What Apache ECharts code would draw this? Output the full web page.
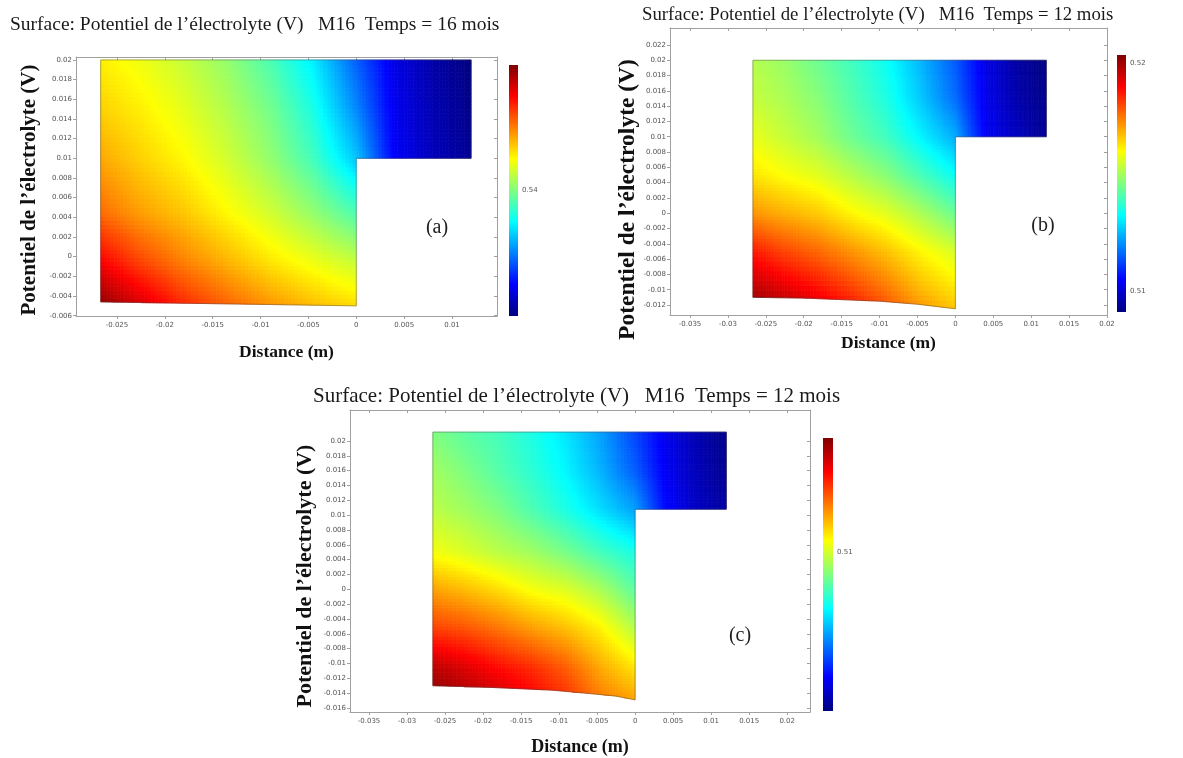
<!DOCTYPE html>
<html><head><meta charset="utf-8">
<script src="https://cdn.jsdelivr.net/npm/echarts@6/dist/echarts.min.js"></script>
<style>html,body{margin:0;padding:0;background:#fff}#c{width:1183px;height:758px}</style>
</head><body><div id="c"></div>
<script>
// ================= DATA =================
const titleA = 'Surface: Potentiel de l’électrolyte (V)   M16  Temps = 16 mois';
const titleB = 'Surface: Potentiel de l’électrolyte (V)   M16  Temps = 12 mois';
const titleC = 'Surface: Potentiel de l’électrolyte (V)   M16  Temps = 12 mois';
const xName = 'Distance (m)';
const yName = 'Potentiel de l’électrolyte (V)';
const panelLabels = ['(a)', '(b)', '(c)'];

// tick labels
const xTicksA = [-0.025, -0.02, -0.015, -0.01, -0.005, 0, 0.005, 0.01];
const yTicksA = [-0.006, -0.004, -0.002, 0, 0.002, 0.004, 0.006, 0.008, 0.01, 0.012, 0.014, 0.016, 0.018, 0.02];
const xTicksB = [-0.035, -0.03, -0.025, -0.02, -0.015, -0.01, -0.005, 0, 0.005, 0.01, 0.015, 0.02];
const yTicksB = [-0.012, -0.01, -0.008, -0.006, -0.004, -0.002, 0, 0.002, 0.004, 0.006, 0.008, 0.01, 0.012, 0.014, 0.016, 0.018, 0.02, 0.022];
const xTicksC = [-0.035, -0.03, -0.025, -0.02, -0.015, -0.01, -0.005, 0, 0.005, 0.01, 0.015, 0.02];
const yTicksC = [-0.016, -0.014, -0.012, -0.01, -0.008, -0.006, -0.004, -0.002, 0, 0.002, 0.004, 0.006, 0.008, 0.01, 0.012, 0.014, 0.016, 0.018, 0.02];
const cbTicksA = [0.54];
const cbTicksB = [0.51, 0.52];
const cbTicksC = [0.51];

// colour-bar ranges (V)
const rangeA = [0.535, 0.545];
const rangeB = [0.50908, 0.52035];
const rangeC = [0.503, 0.515];

// geometry of the domain (m)
const topA = 0.02,   stepA = 0.01,   tabRightA = 0.012;
const topB = 0.02,   stepB = 0.01,   tabRightB = 0.012;
const topC = 0.0212, stepC = 0.0108, tabRightC = 0.012;
const bottomXA = [-0.0267, 0];
const bottomYA = [-0.0046, -0.0050];
const bottomXB = [-0.0267, -0.02, -0.015, -0.01, -0.005, -0.0025, 0];
const bottomYB = [-0.0110, -0.0111, -0.0113, -0.0115, -0.0119, -0.0122, -0.0125];
const bottomXC = [-0.0266, -0.0195, -0.0108, -0.0055, -0.0025, 0];
const bottomYC = [-0.0130, -0.0132, -0.0136, -0.0141, -0.0144, -0.0149];

// sampled electrolyte potential (V) at grid nodes, rows follow nodeY (ascending)
const nodeXA = [-0.0267, -0.0225, -0.018, -0.0135, -0.009, -0.0045, 0, 0.004, 0.008, 0.012];
const nodeYA = [-0.0055, -0.0005, 0.0045, 0.01, 0.015, 0.02];
const potA = [
  [0.5450, 0.5443, 0.5435, 0.5429, 0.5424, 0.5420, 0.5417],
  [0.5438, 0.5431, 0.5425, 0.5420, 0.5415, 0.5411, 0.5407],
  [0.5427, 0.5422, 0.5418, 0.5413, 0.5408, 0.5402, 0.5395],
  [0.5421, 0.5417, 0.5413, 0.5408, 0.5402, 0.5394, 0.5382, 0.5362, 0.5356, 0.5352],
  [0.5417, 0.5414, 0.5410, 0.5405, 0.5399, 0.5390, 0.5376, 0.5361, 0.5355, 0.5351],
  [0.5414, 0.5411, 0.5407, 0.5402, 0.5395, 0.5386, 0.5372, 0.5360, 0.5354, 0.5350]
];
const nodeXB = [-0.0267, -0.0225, -0.018, -0.0135, -0.009, -0.0045, 0, 0.004, 0.008, 0.012];
const nodeYB = [-0.0127, -0.005, 0, 0.005, 0.01, 0.015, 0.02];
const potB = [
  [0.5203, 0.5199, 0.5194, 0.5188, 0.5181, 0.5173, 0.5168],
  [0.5187, 0.5182, 0.5178, 0.5173, 0.5168, 0.5162, 0.5157],
  [0.5173, 0.5170, 0.5167, 0.5162, 0.5158, 0.5152, 0.5145],
  [0.5164, 0.5161, 0.5158, 0.5153, 0.5148, 0.5141, 0.5134],
  [0.5159, 0.5155, 0.5151, 0.5145, 0.5140, 0.5132, 0.5124, 0.5104, 0.5098, 0.5093],
  [0.5155, 0.5152, 0.5148, 0.5142, 0.5136, 0.5127, 0.5117, 0.5103, 0.5096, 0.5092],
  [0.5153, 0.5150, 0.5145, 0.5140, 0.5134, 0.5125, 0.5115, 0.5102, 0.5095, 0.5091]
];
const nodeXC = [-0.0266, -0.0225, -0.018, -0.0135, -0.009, -0.0045, 0, 0.004, 0.008, 0.012];
const nodeYC = [-0.015, -0.0105, -0.005, 0, 0.005, 0.0108, 0.016, 0.0212];
const potC = [
  [0.5150, 0.5146, 0.5142, 0.5136, 0.5130, 0.5121, 0.5116],
  [0.5143, 0.5139, 0.5134, 0.5130, 0.5124, 0.5115, 0.5108],
  [0.5127, 0.5125, 0.5121, 0.5116, 0.5112, 0.5106, 0.5096],
  [0.5116, 0.5113, 0.5109, 0.5104, 0.5101, 0.5095, 0.5086],
  [0.5104, 0.5101, 0.5097, 0.5094, 0.5089, 0.5083, 0.5078],
  [0.5097, 0.5094, 0.5090, 0.5084, 0.5078, 0.5071, 0.5064, 0.5046, 0.5038, 0.5034],
  [0.5094, 0.5090, 0.5085, 0.5080, 0.5074, 0.5066, 0.5056, 0.5044, 0.5037, 0.5032],
  [0.5090, 0.5086, 0.5083, 0.5078, 0.5072, 0.5064, 0.5053, 0.5043, 0.5036, 0.5031]
];

// ================= LAYOUT / STYLE =================
const SERIF = 'Liberation Serif';
const panels = [
  {title: titleA, x: nodeXA, y: nodeYA, v: potA, range: rangeA, bx: bottomXA, by: bottomYA, top: topA, step: stepA, tab: tabRightA,
   xTicks: xTicksA, yTicks: yTicksA, cbTicks: cbTicksA, label: panelLabels[0],
   L: {grid: [76, 57, 421, 259], cb: [509, 65, 9, 251], xr: [-0.02928, 0.0147], yr: [-0.00603, 0.0203],
       tfs: 19.5, tpos: [10, 15], yfs: 21, ygap: 36, ypad: 7, xfs: 17.5, xgap: 27, lab: [437, 228]}},
  {title: titleB, x: nodeXB, y: nodeYB, v: potB, range: rangeB, bx: bottomXB, by: bottomYB, top: topB, step: stepB, tab: tabRightB,
   xTicks: xTicksB, yTicks: yTicksB, cbTicks: cbTicksB, label: panelLabels[1],
   L: {grid: [670, 28, 437, 287], cb: [1117, 55, 9, 257], xr: [-0.03764, 0.02], yr: [-0.01331, 0.02422],
       tfs: 18.8, tpos: [642, 6], yfs: 23.5, ygap: 10, ypad: 56, xfs: 17.5, xgap: 19, lab: [1043, 226]}},
  {title: titleC, x: nodeXC, y: nodeYC, v: potC, range: rangeC, bx: bottomXC, by: bottomYC, top: topC, step: stepC, tab: tabRightC,
   xTicks: xTicksC, yTicks: yTicksC, cbTicks: cbTicksC, label: panelLabels[2],
   L: {grid: [350, 410, 460, 302], cb: [823, 438, 10, 273], xr: [-0.0375, 0.0230], yr: [-0.01654, 0.02418],
       tfs: 21, tpos: [313, 386], yfs: 22, ygap: 34, ypad: 30, xfs: 18, xgap: 26, lab: [740, 636]}}
];

const JET = [[0, [0, 0, 128]], [0.125, [0, 0, 255]], [0.375, [0, 255, 255]], [0.625, [255, 255, 0]], [0.875, [255, 0, 0]], [1, [128, 0, 0]]];
function jet(t) {
  t = Math.max(0, Math.min(1, t));
  for (let k = 1; k < JET.length; k++) {
    if (t <= JET[k][0]) {
      const t0 = JET[k - 1][0], c0 = JET[k - 1][1], t1 = JET[k][0], c1 = JET[k][1];
      const f = (t - t0) / (t1 - t0);
      return 'rgb(' + c0.map((c, i) => Math.round(c + (c1[i] - c) * f)).join(',') + ')';
    }
  }
  return 'rgb(128,0,0)';
}
function bottomAt(p, x) {
  const bx = p.bx, by = p.by;
  if (x <= bx[0]) return by[0];
  for (let k = 1; k < bx.length; k++) {
    if (x <= bx[k]) { const f = (x - bx[k - 1]) / (bx[k] - bx[k - 1]); return by[k - 1] + (by[k] - by[k - 1]) * f; }
  }
  return by[by.length - 1];
}
const fmt = v => String(+(+v).toFixed(5));

const grid = [], xAxis = [], yAxis = [], series = [], title = [], graphic = [];
const AX = '#a0a0a0', LBL = '#555';

panels.forEach((p, k) => {
  const L = p.L, gi = 2 * k, ai = 3 * k;
  grid.push({left: L.grid[0], top: L.grid[1], width: L.grid[2], height: L.grid[3], show: false, containLabel: false, outerBoundsMode: 'none'});
  grid.push({left: L.cb[0], top: L.cb[1], width: L.cb[2], height: L.cb[3], show: false, containLabel: false, outerBoundsMode: 'none'});

  const tickStyle = {color: AX, width: 1};
  xAxis.push({gridIndex: gi, type: 'value', min: L.xr[0], max: L.xr[1], position: 'bottom',
    axisLine: {show: true, onZero: false, lineStyle: {color: AX}},
    axisTick: {show: true, length: 3, customValues: p.xTicks, lineStyle: tickStyle},
    axisLabel: {show: true, customValues: p.xTicks, fontSize: 7, color: LBL, margin: 6, fontFamily: 'DejaVu Sans', formatter: fmt},
    splitLine: {show: false},
    name: xName, nameLocation: 'middle', nameGap: L.xgap,
    nameTextStyle: {fontFamily: SERIF, fontWeight: 'bold', fontSize: L.xfs, color: '#111'}});
  xAxis.push({gridIndex: gi, type: 'value', min: L.xr[0], max: L.xr[1], position: 'top',
    axisLine: {show: true, onZero: false, lineStyle: {color: AX}},
    axisTick: {show: true, inside: true, length: 3, customValues: p.xTicks, lineStyle: tickStyle},
    axisLabel: {show: false}, splitLine: {show: false}});
  xAxis.push({gridIndex: gi + 1, type: 'value', min: 0, max: 1, show: false});

  yAxis.push({gridIndex: gi, type: 'value', min: L.yr[0], max: L.yr[1], position: 'left',
    axisLine: {show: true, onZero: false, lineStyle: {color: AX}},
    axisTick: {show: true, length: 3, customValues: p.yTicks, lineStyle: tickStyle},
    axisLabel: {show: true, customValues: p.yTicks, fontSize: 7, color: LBL, margin: 4, fontFamily: 'DejaVu Sans', formatter: fmt},
    splitLine: {show: false},
    name: yName, nameLocation: 'middle', nameGap: L.ygap,
    nameTextStyle: {fontFamily: SERIF, fontWeight: 'bold', fontSize: L.yfs, color: '#111', padding: [0, L.ypad, 0, 0]}});
  yAxis.push({gridIndex: gi, type: 'value', min: L.yr[0], max: L.yr[1], position: 'right',
    axisLine: {show: true, onZero: false, lineStyle: {color: AX}},
    axisTick: {show: true, inside: true, length: 3, customValues: p.yTicks, lineStyle: tickStyle},
    axisLabel: {show: false}, splitLine: {show: false}});
  yAxis.push({gridIndex: gi + 1, type: 'value', min: p.range[0], max: p.range[1], position: 'right',
    axisLine: {show: false}, axisTick: {show: false}, splitLine: {show: false},
    axisLabel: {show: true, customValues: p.cbTicks, fontSize: 7, color: LBL, margin: 4, fontFamily: 'DejaVu Sans', formatter: fmt}});

  // ---- surface cells built from sampled nodes ----
  const cells = [];
  for (let j = 0; j < p.y.length - 1; j++) {
    const r0 = p.v[j], r1 = p.v[j + 1];
    for (let i = 0; i < p.x.length - 1; i++) {
      if (i + 1 < r0.length && i + 1 < r1.length) {
        cells.push([p.x[i], p.x[i + 1], p.y[j], p.y[j + 1], r0[i], r0[i + 1], r1[i], r1[i + 1]]);
      }
    }
  }
  series.push({
    type: 'custom', name: 'surface' + k, xAxisIndex: ai, yAxisIndex: ai, data: cells,
    silent: true, animation: false, clip: false,
    renderItem: function (params, api) {
      const x0 = api.value(0), x1 = api.value(1), y0 = api.value(2), y1 = api.value(3);
      const a = api.value(4), b = api.value(5), c = api.value(6), d = api.value(7);
      const N = 12, children = [];
      for (let si = 0; si < N; si++) {
        const u0 = si / N, u1 = (si + 1) / N;
        const xs0 = x0 + (x1 - x0) * u0, xs1 = x0 + (x1 - x0) * u1;
        const bl = bottomAt(p, xs0), br = bottomAt(p, xs1);
        for (let sj = 0; sj < N; sj++) {
          const w0 = sj / N, w1 = (sj + 1) / N;
          const ys0 = y0 + (y1 - y0) * w0, ys1 = y0 + (y1 - y0) * w1;
          if (ys1 <= bl && ys1 <= br) continue;
          const yl = Math.min(ys1, Math.max(ys0, bl)), yr = Math.min(ys1, Math.max(ys0, br));
          const uc = (u0 + u1) / 2, wc = (w0 + w1) / 2;
          const val = a * (1 - uc) * (1 - wc) + b * uc * (1 - wc) + c * (1 - uc) * wc + d * uc * wc;
          const col = jet((val - p.range[0]) / (p.range[1] - p.range[0]));
          children.push({type: 'polygon', shape: {points: [api.coord([xs0, yl]), api.coord([xs1, yr]), api.coord([xs1, ys1]), api.coord([xs0, ys1])]},
            style: {fill: col, stroke: col, lineWidth: 0.7}});
        }
      }
      return {type: 'group', children: children};
    }
  });

  // ---- domain outline ----
  const outline = [[p.x[0], p.top], [p.tab, p.top], [p.tab, p.step], [0, p.step]];
  for (let q = p.bx.length - 1; q >= 0; q--) outline.push([p.bx[q], p.by[q]]);
  outline.push([p.x[0], p.top]);
  series.push({type: 'line', name: 'outline' + k, xAxisIndex: ai, yAxisIndex: ai, data: outline,
    symbol: 'none', silent: true, animation: false, z: 5,
    lineStyle: {color: 'rgba(70,70,70,0.55)', width: 0.8}});

  // ---- colour bar ----
  series.push({type: 'custom', name: 'colorbar' + k, xAxisIndex: ai + 2, yAxisIndex: ai + 2,
    data: [[0, 1, p.range[0], p.range[1]]], silent: true, animation: false,
    renderItem: function (params, api) {
      const p0 = api.coord([api.value(0), api.value(3)]);
      const p1 = api.coord([api.value(1), api.value(2)]);
      return {type: 'rect', shape: {x: p0[0], y: p0[1], width: p1[0] - p0[0], height: p1[1] - p0[1]},
        style: {fill: new echarts.graphic.LinearGradient(0, 0, 0, 1, [
          {offset: 0, color: '#800000'}, {offset: 0.125, color: '#ff0000'}, {offset: 0.375, color: '#ffff00'},
          {offset: 0.625, color: '#00ffff'}, {offset: 0.875, color: '#0000ff'}, {offset: 1, color: '#000080'}])}};
    }});

  title.push({text: p.title, left: L.tpos[0], top: L.tpos[1], padding: 0,
    textStyle: {fontFamily: SERIF, fontWeight: 'normal', fontSize: L.tfs, color: '#1a1a1a'}});
  graphic.push({type: 'text', x: L.lab[0], y: L.lab[1], silent: true,
    style: {text: p.label, font: '20px "Liberation Serif"', fill: '#222', align: 'center', verticalAlign: 'middle'}});
});

const chart = echarts.init(document.getElementById('c'), null, {renderer: 'canvas'});
chart.setOption({backgroundColor: '#fff', animation: false, title, grid, xAxis, yAxis, series, graphic});
</script></body></html>
